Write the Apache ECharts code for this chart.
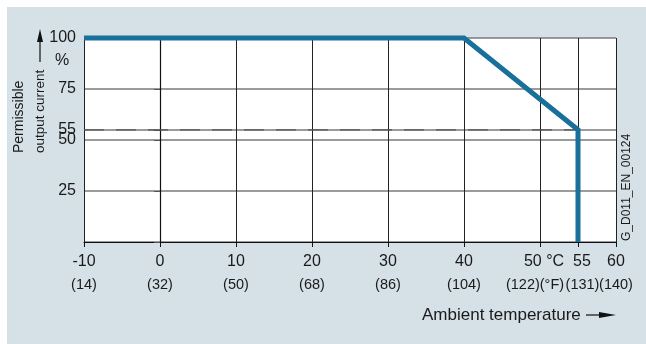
<!DOCTYPE html>
<html><head><meta charset="utf-8">
<script src="https://cdn.jsdelivr.net/npm/echarts@6/dist/echarts.min.js"></script>
<style>html,body{margin:0;padding:0;background:#fff}#c{width:646px;height:344px}</style>
</head><body><div id="c"></div>
<script>
// ---- data ----
const xTickValues = [-10, 0, 10, 20, 30, 40, 50, 55, 60];
const celsiusLabels = ['-10', '0', '10', '20', '30', '40', '50 °C', '55', '60'];
const fahrenheitLabels = ['(14)', '(32)', '(50)', '(68)', '(86)', '(104)', '(122)(°F)', '(131)', '(140)'];
const yLabelValues = [25, 50, 55, 75, 100];
const yTickValues = [0, 25, 50, 55, 75, 100];
const deratingTemp = [-10, 40, 55, 55];
const deratingCurrent = [100, 100, 55, 0];
const refTemp = [-10, 55];
const refCurrent = [55, 55];

const FONT = 'Liberation Sans, Arial, sans-serif';
const TXT = '#1a1a1a';
const chart = echarts.init(document.getElementById('c'), null, {renderer: 'canvas'});
const grid = {left: 84, top: 38, right: 30, bottom: 102};

const mainLabelValues = xTickValues.filter(v => v !== 55);
const sideLabelValues = xTickValues.filter(v => v === 55);

function xFormatter(v) {
  const i = xTickValues.indexOf(v);
  if (i < 0) return '';
  if (v === 50) return '{ct|' + celsiusLabels[i] + '}\n{fb|' + fahrenheitLabels[i] + '}';
  if (v === 55) return '{cs|' + celsiusLabels[i] + '}\n{fs|' + fahrenheitLabels[i] + '}';
  return '{c|' + celsiusLabels[i] + '}\n{f|' + fahrenheitLabels[i] + '}';
}
const rich = {
  c: {fontSize: 16, fontFamily: FONT, color: TXT, lineHeight: 25},
  f: {fontSize: 14.5, fontFamily: FONT, color: TXT, lineHeight: 22},
  ct: {fontSize: 16, fontFamily: FONT, color: TXT, lineHeight: 25, padding: [0, 0, 0, 8]},
  fb: {fontSize: 14.5, fontFamily: FONT, color: TXT, lineHeight: 22, padding: [0, 10, 0, 0]},
  cs: {fontSize: 16, fontFamily: FONT, color: TXT, lineHeight: 25, padding: [0, 0, 0, 8]},
  fs: {fontSize: 14.5, fontFamily: FONT, color: TXT, lineHeight: 22, padding: [0, 0, 0, 9]}
};

const option = {
  backgroundColor: '#d5e0e7',
  animation: false,
  grid: Object.assign({show: true, backgroundColor: '#ffffff', borderWidth: 0}, grid),
  xAxis: [{
    type: 'value', position: 'bottom', min: -10, max: 60, interval: 10,
    axisLine: {show: true, onZero: false, lineStyle: {color: '#111', width: 1.2}},
    axisTick: {show: true, length: 5, inside: false, customValues: xTickValues, lineStyle: {color: '#111'}},
    splitLine: {show: true, lineStyle: {color: '#222', width: 1}},
    axisLabel: {
      customValues: mainLabelValues, margin: 7, fontFamily: FONT, color: TXT,
      showMinLabel: true, showMaxLabel: true, hideOverlap: false,
      formatter: xFormatter, rich: rich
    }
  }, {
    type: 'value', position: 'bottom', offset: 0, min: -10, max: 60, interval: 10,
    axisLine: {show: false, onZero: false},
    axisTick: {show: false},
    splitLine: {show: false},
    axisLabel: {
      customValues: sideLabelValues, margin: 7, fontFamily: FONT, color: TXT,
      showMinLabel: true, showMaxLabel: true, hideOverlap: false,
      formatter: xFormatter, rich: rich
    }
  }],
  yAxis: {
    type: 'value', min: 0, max: 100, interval: 25,
    axisLine: {show: true, lineStyle: {color: '#111', width: 1.2}},
    axisTick: {show: true, length: 6, customValues: yTickValues, lineStyle: {color: '#555'}},
    splitLine: {show: true, lineStyle: {color: '#7a7a7a', width: 1.5}},
    axisLabel: {customValues: yLabelValues, margin: 8, fontSize: 16, fontFamily: FONT, color: TXT,
      showMinLabel: true, showMaxLabel: true}
  },
  series: [
    {
      type: 'line', name: 'ref55', silent: true, symbol: 'none', clip: false, xAxisIndex: 0,
      data: refTemp.map((t, i) => [t, refCurrent[i]]),
      lineStyle: {color: '#555', width: 1.2, type: [20, 12]}
    },
    {
      type: 'line', name: 'derating', silent: true, symbol: 'none', clip: false, xAxisIndex: 0,
      data: deratingTemp.map((t, i) => [t, deratingCurrent[i]]),
      lineStyle: {color: '#19709a', width: 5, join: 'miter', cap: 'butt'}
    }
  ],
  graphic: [
    {type: 'rect', shape: {x: 0, y: 0, width: 646, height: 7}, style: {fill: '#fff'}, silent: true},
    {type: 'rect', shape: {x: 0, y: 0, width: 7, height: 344}, style: {fill: '#fff'}, silent: true},
    {type: 'text', left: 55, top: 53, style: {text: '%', fontSize: 16, fontFamily: FONT, fill: TXT}},
    {type: 'text', x: 19, y: 153, rotation: Math.PI / 2, style: {text: 'Permissible', fontSize: 14, fontFamily: FONT, fill: TXT, align: 'left', verticalAlign: 'middle'}},
    {type: 'text', x: 40, y: 153, rotation: Math.PI / 2, style: {text: 'output current', fontSize: 13.5, fontFamily: FONT, fill: TXT, align: 'left', verticalAlign: 'middle'}},
    {type: 'line', shape: {x1: 40, y1: 62, x2: 40, y2: 40}, style: {stroke: '#111', lineWidth: 1.2}},
    {type: 'polygon', shape: {points: [[40, 29], [37, 42], [43, 42]]}, style: {fill: '#111'}},
    {type: 'text', x: 633, y: 241, rotation: Math.PI / 2, style: {text: 'G_D011_EN_00124', fontSize: 12, fontFamily: FONT, fill: TXT, align: 'left', verticalAlign: 'bottom'}},
    {type: 'text', x: 422, y: 315, style: {text: 'Ambient temperature', fontSize: 17, fontFamily: FONT, fill: TXT, align: 'left', verticalAlign: 'middle'}},
    {type: 'line', shape: {x1: 586, y1: 315, x2: 604, y2: 315}, style: {stroke: '#111', lineWidth: 1.2}},
    {type: 'polygon', shape: {points: [[616, 315], [599, 312], [599, 318]]}, style: {fill: '#111'}}
  ]
};
chart.setOption(option);
</script>
</body></html>
